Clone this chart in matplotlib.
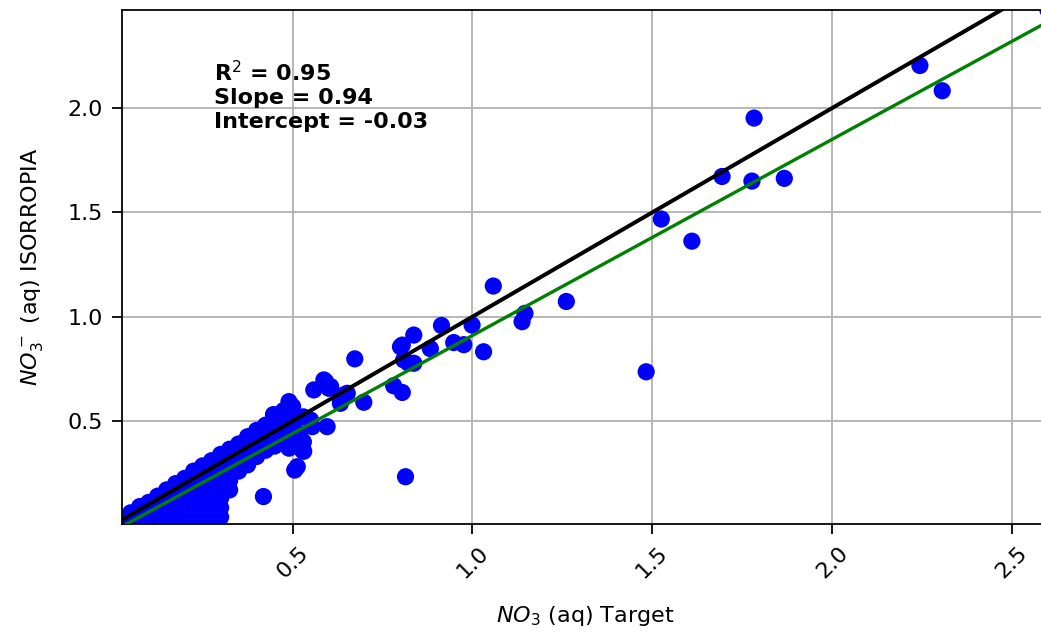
import numpy as np
import matplotlib.pyplot as plt

# NO3 (aq): target values vs. ISORROPIA output
target = [
    # dense low-concentration cluster
    0.025, 0.03,
    0.05, 0.05,
    0.075, 0.075, 0.075,
    0.10, 0.10, 0.10,
    0.125, 0.125, 0.125, 0.125,
    0.15, 0.15, 0.15, 0.15, 0.15,
    0.175, 0.175, 0.175, 0.175, 0.175,
    0.20, 0.20, 0.20, 0.20, 0.20, 0.20,
    0.225, 0.225, 0.225, 0.225, 0.225, 0.225, 0.225,
    0.25, 0.25, 0.25, 0.25, 0.25, 0.25, 0.25,
    0.275, 0.275, 0.275, 0.275, 0.275, 0.275, 0.275, 0.275,
    0.30, 0.30, 0.30, 0.30, 0.30, 0.30, 0.30, 0.30,
    0.325, 0.325, 0.325, 0.325, 0.325, 0.325,
    0.35, 0.35, 0.35, 0.35,
    0.375, 0.375, 0.375, 0.375,
    0.40, 0.40, 0.40, 0.40,
    0.425, 0.425, 0.425, 0.425,
    0.45, 0.45, 0.45, 0.45,
    0.475, 0.475, 0.475, 0.475,
    # 0.4 - 0.7
    0.49, 0.50, 0.447, 0.47, 0.50, 0.52, 0.46, 0.50, 0.53, 0.49, 0.53, 0.49,
    0.55, 0.596, 0.555, 0.527, 0.506, 0.513, 0.531,
    0.587, 0.559, 0.606, 0.592, 0.601,
    0.633, 0.652, 0.643, 0.633, 0.698, 0.673,
    # 0.75 - 1.3
    0.781, 0.805, 0.809, 0.837, 0.822,
    0.805, 0.800, 0.837, 0.883, 0.914, 0.948, 0.976, 0.999,
    1.031, 1.058, 1.261, 1.138, 1.146,
    # outliers and high end
    0.419, 0.814, 1.483,
    1.525, 1.610, 1.694, 1.777, 1.867, 1.783, 2.244, 2.306, 2.60,
]
isorropia = [
    0.025, 0.0065,
    0.02, 0.06,
    0.02, 0.06, 0.09,
    0.02, 0.065, 0.11,
    0.02, 0.065, 0.11, 0.14,
    0.02, 0.065, 0.11, 0.155, 0.17,
    0.02, 0.065, 0.11, 0.155, 0.20,
    0.02, 0.065, 0.11, 0.155, 0.20, 0.225,
    0.02, 0.065, 0.11, 0.155, 0.20, 0.245, 0.26,
    0.02, 0.065, 0.11, 0.155, 0.20, 0.245, 0.285,
    0.02, 0.065, 0.11, 0.155, 0.20, 0.245, 0.29, 0.31,
    0.04, 0.085, 0.13, 0.175, 0.22, 0.265, 0.31, 0.34,
    0.17, 0.215, 0.26, 0.305, 0.35, 0.365,
    0.26, 0.305, 0.35, 0.39,
    0.29, 0.335, 0.38, 0.425,
    0.33, 0.375, 0.42, 0.455,
    0.36, 0.405, 0.45, 0.48,
    0.38, 0.425, 0.47, 0.51,
    0.40, 0.445, 0.49, 0.55,
    0.593, 0.57, 0.531, 0.44, 0.46, 0.44, 0.48, 0.50, 0.52, 0.37, 0.40, 0.41,
    0.505, 0.473, 0.473, 0.36, 0.265, 0.281, 0.355,
    0.697, 0.649, 0.665, 0.689, 0.657,
    0.609, 0.633, 0.625, 0.585, 0.59, 0.798,
    0.669, 0.637, 0.793, 0.777, 0.778,
    0.864, 0.856, 0.912, 0.847, 0.958, 0.876, 0.866, 0.96,
    0.832, 1.147, 1.073, 0.976, 1.016,
    0.138, 0.233, 0.736,
    1.468, 1.362, 1.672, 1.650, 1.663, 1.952, 2.204, 2.083, 2.47,
]

# regression results
r2 = 0.95
slope = 0.94
intercept = -0.03

fig = plt.figure(figsize=(1041 / 160, 633 / 160), dpi=160)
ax = fig.add_axes([0.1169, 0.1722, 0.8898, 0.812])

ax.scatter(target, isorropia, s=60, c='blue', edgecolors='none', zorder=2)
# 1:1 line and fitted line
ax.axline((0, 0), slope=1, color='black', linewidth=1.8, zorder=3)
ax.axline((0, intercept), slope=slope, color='green', linewidth=1.5, zorder=4)

ax.set_xlim(0.025, 2.60)
ax.set_ylim(0.0065, 2.47)
ax.set_xticks([0.5, 1.0, 1.5, 2.0, 2.5])
ax.set_yticks([0.5, 1.0, 1.5, 2.0])
ax.tick_params(length=4.5, pad=4)
plt.setp(ax.get_xticklabels(), rotation=45)
ax.grid(True, zorder=0)
ax.set_axisbelow(True)

ax.text(0.282, 2.23,
        'R$^2$ = %.2f\nSlope = %.2f\nIntercept = %.2f' % (r2, slope, intercept),
        fontweight='bold', va='top', ha='left')

ax.set_xlabel('$NO_3$ (aq) Target', labelpad=10)
ax.set_ylabel('$NO_3^-$ (aq) ISORROPIA', labelpad=10)

fig.savefig('out.png', dpi=160)
